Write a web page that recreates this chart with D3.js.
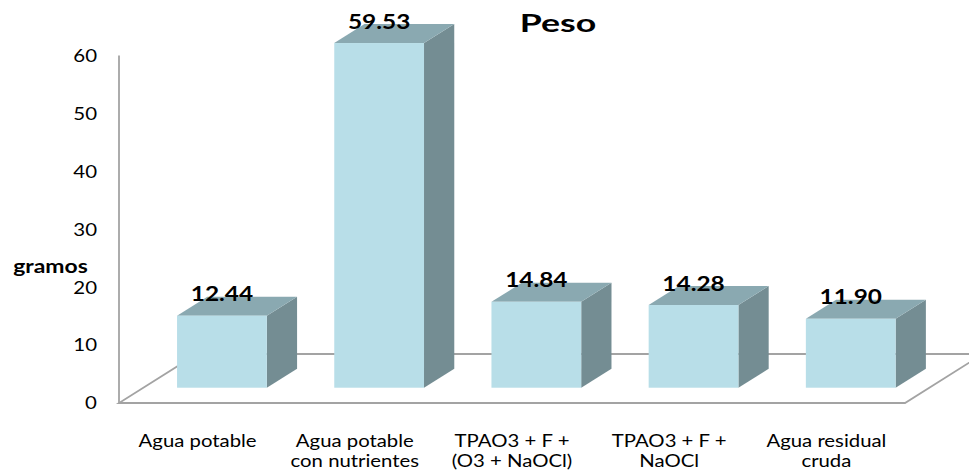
<!DOCTYPE html>
<html>
<head>
<meta charset="utf-8">
<script src="https://cdn.jsdelivr.net/npm/d3@7"></script>
<style>
  html, body { margin: 0; padding: 0; background: #fff; }
  svg { display: block; }
  text { font-family: Lato, "Open Sans", sans-serif; fill: #000; }
</style>
</head>
<body>
<svg id="chart" width="969" height="471"></svg>
<script>
// Peso (gramos) por tipo de agua
const categories = ["Agua potable", "Agua potable con nutrientes", "TPAO3 + F + (O3 + NaOCl)", "TPAO3 + F + NaOCl", "Agua residual cruda"];
const categoryLines = [["Agua potable"], ["Agua potable", "con nutrientes"], ["TPAO3 + F +", "(O3 + NaOCl)"], ["TPAO3 + F +", "NaOCl"], ["Agua residual", "cruda"]];
const pesos = [12.44, 59.53, 14.84, 14.28, 11.90];
const yTicks = [0, 10, 20, 30, 40, 50, 60];
const chartTitle = "Peso";
const yTitle = "gramos";

const W = 969, H = 471;
const svg = d3.select("#chart");

// Oblique projection of depth: full floor depth shifts right and up
const depthDX = 78, depthDY = -49;
const barFront = 0.312, barBack = 0.7;

const x = d3.scaleBand().domain(categories).range([119, 905]).paddingInner(0.429).paddingOuter(0.2145);
const y = d3.scaleLinear().domain([0, 60]).range([403, 55.6]);

const proj = (px, py, d) => [px + depthDX * d, py + depthDY * d];

const colors = { front: "#b8dee8", top: "#8aa9b1", side: "#748d93", grid: "#a3a3a3" };

// Stretched text helper
function label(g, tx, ty, str, opts) {
  return g.append("text")
    .attr("transform", `translate(${tx},${ty}) scale(${opts.sx || 1},1)`)
    .attr("text-anchor", opts.anchor || "middle")
    .attr("font-size", opts.size)
    .attr("font-weight", opts.weight || "normal")
    .text(str);
}

// Floor and wall outline
const walls = svg.append("g").attr("fill", "none").attr("stroke", colors.grid).attr("stroke-width", 1.8);
const x0 = x.range()[0], x1 = x.range()[1];
const fl = proj(x0, y(0), 0), fr = proj(x1, y(0), 0), bl = proj(x0, y(0), 1), br = proj(x1, y(0), 1);
walls.append("path").attr("d", `M${fl}L${fr}L${br}L${bl}Z`);
walls.append("line").attr("x1", x0).attr("x2", x0).attr("y1", y(0)).attr("y2", y(60));

// Bars as prisms
const bars = svg.append("g");
categories.forEach((c, i) => {
  const v = pesos[i];
  const xl = x(c), xr = x(c) + x.bandwidth();
  const [fx0, fyTop] = proj(xl, y(v), barFront);
  const [fx1, fyBot] = proj(xr, y(0), barFront);
  const [bx1, byTop] = proj(xr, y(v), barBack);
  const [bx0] = proj(xl, y(v), barBack);
  const byBot = proj(xr, y(0), barBack)[1];
  const g = bars.append("g");
  g.append("polygon").attr("fill", colors.side)
    .attr("points", [[fx1, fyTop], [bx1, byTop], [bx1, byBot], [fx1, fyBot]].join(" "));
  g.append("polygon").attr("fill", colors.top)
    .attr("points", [[fx0, fyTop], [fx1, fyTop], [bx1, byTop], [bx0, byTop]].join(" "));
  g.append("rect").attr("fill", colors.front)
    .attr("x", fx0).attr("y", fyTop).attr("width", fx1 - fx0).attr("height", fyBot - fyTop);
  label(g, (fx0 + fx1) / 2, fyTop - 14.5, v.toFixed(2), { size: 20, weight: "bold", sx: 1.22 });
});

// Y axis tick labels
const yAxis = svg.append("g");
yTicks.forEach(t => {
  label(yAxis, 97, y(t) + 6.3, String(t), { size: 17.5, anchor: "end", sx: 1.17 });
});

// Category labels
const xAxis = svg.append("g");
categories.forEach((c, i) => {
  const cx = x(c) + x.bandwidth() / 2;
  categoryLines[i].forEach((ln, j) => {
    label(xAxis, cx, y(0) + 43.5 + j * 20, ln, { size: 18, sx: 1.13 });
  });
});

// Titles
label(svg, 558, 31.7, chartTitle, { size: 25.5, weight: "bold", sx: 1.4 });
label(svg, 50.5, 272.5, yTitle, { size: 18.5, weight: "bold", sx: 1.24 });
</script>
</body>
</html>
